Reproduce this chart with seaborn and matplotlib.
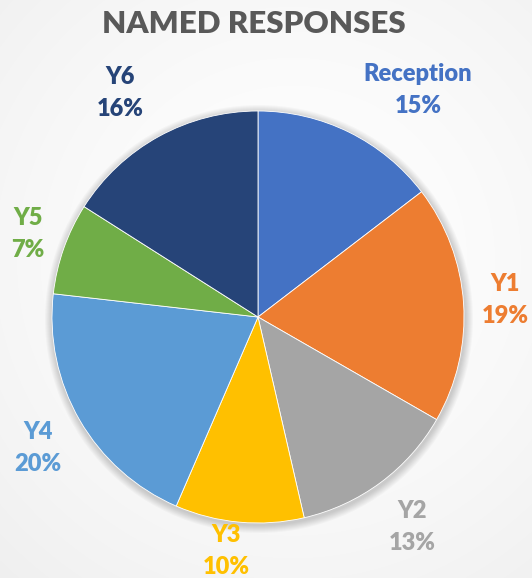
import numpy as np
import matplotlib
matplotlib.use("Agg")
import matplotlib.pyplot as plt
import seaborn as sns
from matplotlib.patches import Circle

# ---- data ----
categories = ["Reception", "Y1", "Y2", "Y3", "Y4", "Y5", "Y6"]
values = [14.6, 18.7, 13.1, 10.1, 20.3, 7.2, 16.0]
pct_labels = ["15%", "19%", "13%", "10%", "20%", "7%", "16%"]
colors = ["#4472C4", "#ED7D31", "#A5A5A5", "#FFC000", "#5B9BD5", "#70AD47", "#264478"]
title = "NAMED RESPONSES"

# label anchor positions (pixel coords, top-left origin) for name line
label_pos = [(418, 74), (505, 284), (412, 511), (226, 535), (38, 432), (28, 218), (120, 77)]

sns.set_theme(style="white")
plt.rcParams['font.family'] = ['Lato', 'DejaVu Sans']

W, H = 532, 578
fig = plt.figure(figsize=(W / 100, H / 100), dpi=100)
ax = fig.add_axes([0, 0, 1, 1])

# background radial gradient
yy, xx = np.mgrid[0:H, 0:W]
d = np.sqrt((xx - W * 0.55) ** 2 + (yy - H * 0.55) ** 2) / np.sqrt((W * 0.6) ** 2 + (H * 0.6) ** 2)
bg = 1.0 - 0.07 * np.clip(d, 0, 1) ** 1.5
ax.imshow(np.dstack([bg, bg, bg]), extent=[0, W, 0, H], origin='lower', zorder=0, interpolation='bilinear')

cx, cy, r = 258, H - 317, 206

# soft shadow
for i in range(8):
    ax.add_patch(Circle((cx + 1, cy - 2), r + 1 + i, color='black', alpha=0.022, lw=0, zorder=1))

ax.pie(values, colors=colors, startangle=90, counterclock=False, center=(cx, cy), radius=r,
       wedgeprops=dict(linewidth=0.6, edgecolor='white', zorder=2), frame=True)
ax.set_xlim(0, W)
ax.set_ylim(0, H)
ax.set_aspect('equal')
ax.axis('off')

for cat, pct, col, (px, py) in zip(categories, pct_labels, colors, label_pos):
    ax.text(px, H - py, cat, color=col, fontsize=17, fontweight='heavy', ha='center', va='center', zorder=5)
    ax.text(px, H - py - 32, pct, color=col, fontsize=17, fontweight='heavy', ha='center', va='center', zorder=5)

ax.text(254, H - 24, title, color='#595959', fontsize=22.5, fontweight='heavy', ha='center', va='center', zorder=5)

fig.savefig("out.png", dpi=100)
